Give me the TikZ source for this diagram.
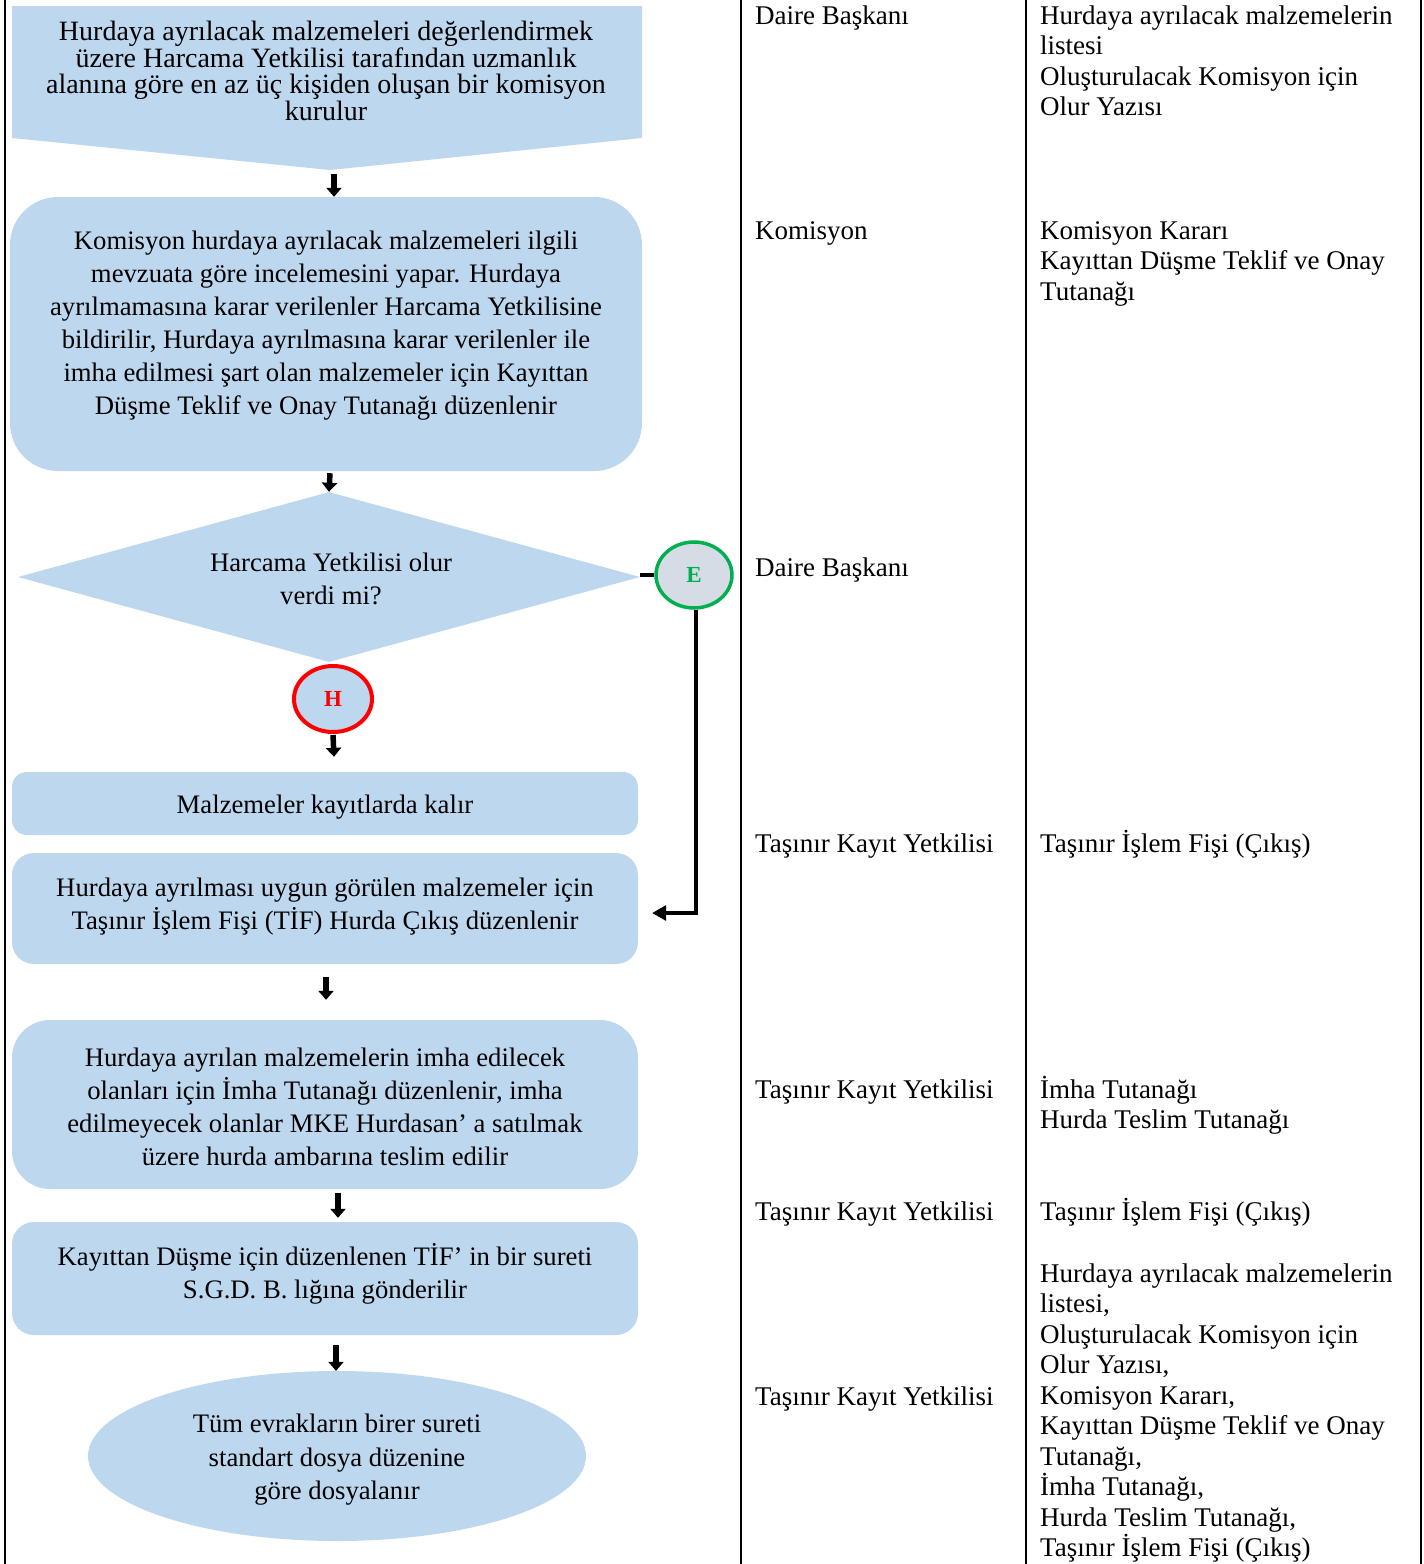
\documentclass[tikz,border=0pt]{standalone}
\usepackage{fontspec}
\setmainfont{Liberation Serif}
\usetikzlibrary{arrows.meta,shapes.geometric,calc}
\definecolor{boxblue}{HTML}{BDD7EE}
\definecolor{egray}{HTML}{D6DCE5}
\definecolor{egreen}{HTML}{00B050}
\definecolor{hred}{HTML}{FF0000}
\begin{document}
\begin{tikzpicture}[x=1pt,y=1pt,
  every node/.style={inner sep=0pt},
  coltext/.style={anchor=base west, align=left, font=\fontsize{27}{30.5}\selectfont},
  boxtext/.style={align=center, font=\fontsize{26.7}{33}\selectfont},
  flowbox/.style={rectangle, fill=boxblue, draw=none, minimum width=626pt},
  bigarrow/.style={line width=5.5pt, -{Triangle[width=15pt,length=9pt]}},
  conn/.style={line width=3.2pt},
  colline/.style={line width=2.5pt},
  circ/.style={ellipse, line width=3.5pt, minimum width=76pt, minimum height=66pt, font=\fontsize{23}{23}\selectfont\bfseries}
]
\useasboundingbox (0,0) rectangle (1424,-1564);

% column lines
\coordinate (c0t) at (5,0);    \coordinate (c0b) at (5,-1564);
\coordinate (c1t) at (741,0);  \coordinate (c1b) at (741,-1564);
\coordinate (c2t) at (1026,0); \coordinate (c2b) at (1026,-1564);
\coordinate (c3t) at (1421,0); \coordinate (c3b) at (1421,-1564);
\draw[colline] (c0t) -- (c0b);
\draw[colline] (c1t) -- (c1b);
\draw[colline] (c2t) -- (c2b);
\draw[colline] (c3t) -- (c3b);

% 1: off-page pentagon
\coordinate (p1tip) at (330,-170);
\fill[boxblue] (12,-6) -- (642,-6) -- (642,-138) -- (p1tip) -- (12,-138) -- cycle;
\node[align=center, font=\fontsize{28}{26.5}\selectfont] (p1t) at (326,-71)
  {Hurdaya ayrılacak malzemeleri değerlendirmek\\üzere Harcama Yetkilisi tarafından uzmanlık\\alanına göre en az üç kişiden oluşan bir komisyon\\kurulur};

% 2
\node[flowbox, minimum width=632pt, minimum height=274pt, rounded corners=48pt] (b2) at (326,-334) {};
\node[boxtext] (b2t) at (326,-326) {Komisyon hurdaya ayrılacak malzemeleri ilgili\\mevzuata göre incelemesini yapar. Hurdaya\\ayrılmamasına karar verilenler Harcama Yetkilisine\\bildirilir, Hurdaya ayrılmasına karar verilenler ile\\imha edilmesi şart olan malzemeler için Kayıttan\\Düşme Teklif ve Onay Tutanağı düzenlenir};

% diamond
\node[diamond, fill=boxblue, aspect=3.66, minimum width=622pt, minimum height=170pt] (d) at (329,-577) {};
\node[boxtext] (dt) at (331,-579) {Harcama Yetkilisi olur\\verdi mi?};

% E and H
\node[circ, draw=egreen, fill=egray, text=egreen] (E) at (694,-575) {E};
\node[circ, draw=hred, fill=boxblue, text=hred, minimum width=78pt, line width=4pt] (H) at (333,-699) {H};

% boxes
\node[flowbox, minimum height=63pt, rounded corners=15pt] (b3) at (325,-803.5) {};
\node[boxtext] (b3t) at (325,-807) {Malzemeler kayıtlarda kalır};

\node[flowbox, minimum height=111pt, rounded corners=22pt] (b4) at (325,-908.5) {};
\node[boxtext] (b4t) at (325,-906.5) {Hurdaya ayrılması uygun görülen malzemeler için\\Taşınır İşlem Fişi (TİF) Hurda Çıkış düzenlenir};

\node[flowbox, minimum height=169pt, rounded corners=38pt] (b5) at (325,-1104.5) {};
\node[boxtext] (b5t) at (325,-1107) {Hurdaya ayrılan malzemelerin imha edilecek\\olanları için İmha Tutanağı düzenlenir, imha\\edilmeyecek olanlar MKE Hurdasan’ a satılmak\\üzere hurda ambarına teslim edilir};

\node[flowbox, minimum height=113pt, rounded corners=22pt] (b6) at (325,-1278.5) {};
\node[boxtext] (b6t) at (325,-1274) {Kayıttan Düşme için düzenlenen TİF’ in bir sureti\\S.G.D. B. lığına gönderilir};

\node[ellipse, fill=boxblue, minimum width=498pt, minimum height=170pt] (el) at (337,-1456) {};
\node[boxtext, font=\fontsize{26.7}{33.5}\selectfont] (elt) at (337,-1460) {Tüm evrakların birer sureti\\standart dosya düzenine\\göre dosyalanır};

% arrows
\draw[bigarrow] ([xshift=4pt,yshift=-4pt]p1tip) -- ([xshift=8pt]b2.north);
\draw[bigarrow] ([xshift=4pt,yshift=-2pt]b2.south) -- (d.north);
\draw[bigarrow] ([yshift=-1pt]H.south) -- ([xshift=9pt,yshift=15pt]b3.north);
\draw[bigarrow] ([xshift=1pt,yshift=-13pt]b4.south) -- ([xshift=1pt,yshift=20pt]b5.north);
\draw[bigarrow] ([xshift=13pt,yshift=-4pt]b5.south) -- ([xshift=13pt,yshift=4pt]b6.north);
\draw[bigarrow] ([xshift=11pt,yshift=-10pt]b6.south) -- ([xshift=-1pt]el.north);

% E connector
\draw[conn] ([yshift=2pt]d.east) -- ([yshift=2pt]d.east -| E.west);
\coordinate (Ecorner) at (696,-913);
\draw[conn, -{Triangle[width=15pt,length=14pt]}] ([xshift=2pt]E.south) -- (Ecorner) -- ([xshift=14pt]b4.east |- Ecorner);

% middle column
\node[coltext] (m1) at (755,-24) {Daire Başkanı};
\node[coltext] (m2) at (755,-239) {Komisyon};
\node[coltext] (m3) at (755,-576) {Daire Başkanı};
\node[coltext] (m4) at (755,-852) {Taşınır Kayıt Yetkilisi};
\node[coltext] (m5) at (755,-1098) {Taşınır Kayıt Yetkilisi};
\node[coltext] (m6) at (755,-1220) {Taşınır Kayıt Yetkilisi};
\node[coltext] (m7) at (755,-1405) {Taşınır Kayıt Yetkilisi};

% right column (base anchor = last line baseline)
\node[coltext] (r1) at (1040,-115.5) {Hurdaya ayrılacak malzemelerin\\listesi\\Oluşturulacak Komisyon için\\Olur Yazısı};
\node[coltext] (r2) at (1040,-300) {Komisyon Kararı\\Kayıttan Düşme Teklif ve Onay\\Tutanağı};
\node[coltext] (r3) at (1040,-852) {Taşınır İşlem Fişi (Çıkış)};
\node[coltext] (r4) at (1040,-1128.5) {İmha Tutanağı\\Hurda Teslim Tutanağı};
\node[coltext] (r5) at (1040,-1220) {Taşınır İşlem Fişi (Çıkış)};
\node[coltext] (r6) at (1040,-1556.5) {Hurdaya ayrılacak malzemelerin\\listesi,\\Oluşturulacak Komisyon için\\Olur Yazısı,\\Komisyon Kararı,\\Kayıttan Düşme Teklif ve Onay\\Tutanağı,\\İmha Tutanağı,\\Hurda Teslim Tutanağı,\\Taşınır İşlem Fişi (Çıkış)};
\end{tikzpicture}
\end{document}
